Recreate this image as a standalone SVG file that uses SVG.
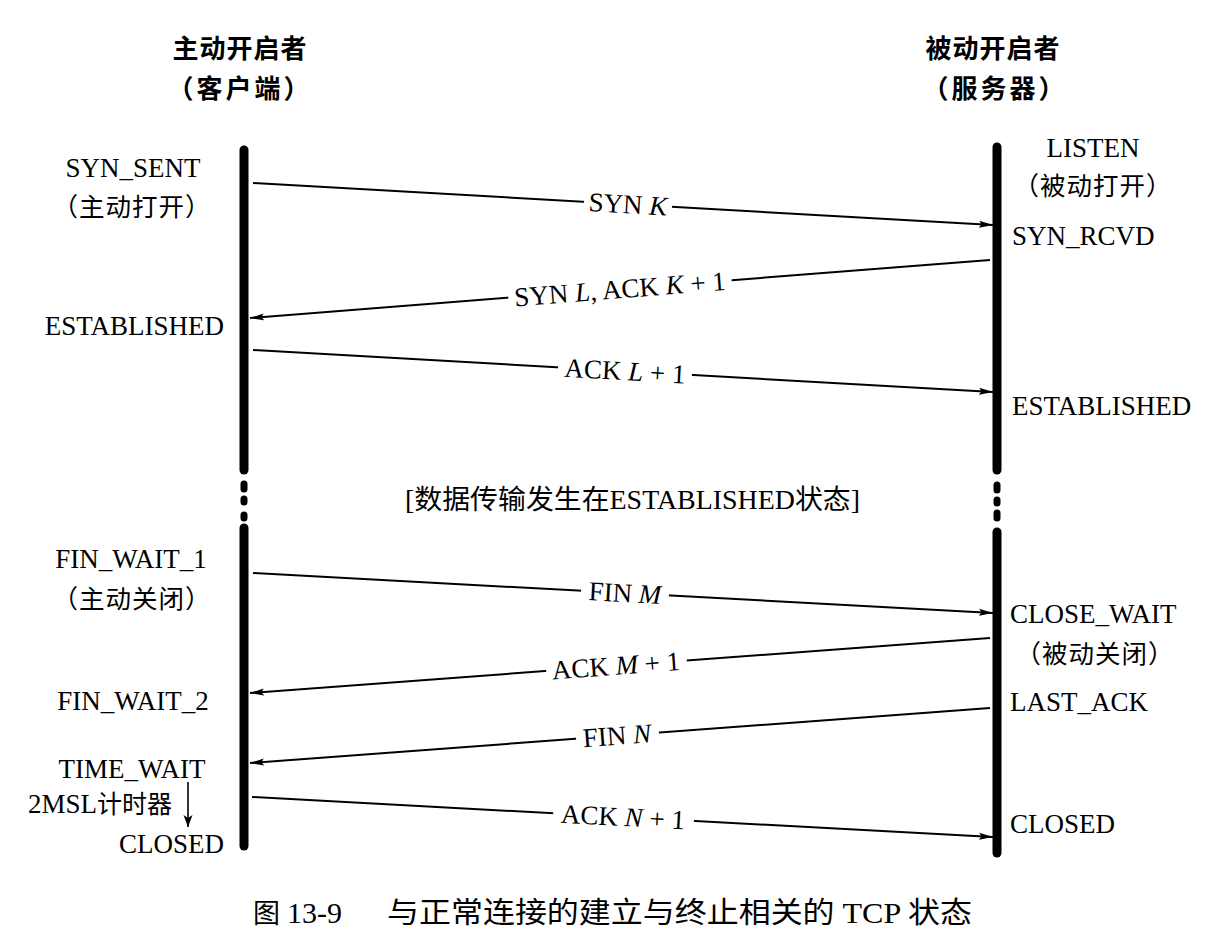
<svg xmlns="http://www.w3.org/2000/svg" width="1230" height="940" viewBox="0 0 1230 940">
<defs>
<style>
.t{font-family:"Liberation Serif","Noto Sans CJK SC",serif;font-size:27px;fill:#000}
.cn{font-family:"Noto Sans CJK SC",sans-serif;font-size:25px;fill:#000}
.lab{font-size:25.5px;letter-spacing:1px}
.h{font-family:"Noto Sans CJK SC",sans-serif;font-size:26px;font-weight:700;fill:#000;letter-spacing:1px}
.life{stroke:#000;stroke-width:9;stroke-linecap:round;fill:none}
.dot{stroke:#000;stroke-width:7;stroke-linecap:round;fill:none}
.msg{stroke:#000;stroke-width:2;fill:none;marker-end:url(#ah)}
.gap{fill:#fff}
.i{font-style:italic}
</style>
<marker id="ah" viewBox="0 0 14 8" refX="14" refY="4" markerWidth="14" markerHeight="8" orient="auto" markerUnits="userSpaceOnUse">
<path d="M0,0.5 L14,4 L0,7.5 L2.5,4 z" fill="#000"/>
</marker>
<marker id="ahs" viewBox="0 0 10 12" refX="5" refY="12" markerWidth="10" markerHeight="12" orient="0" markerUnits="userSpaceOnUse">
<path d="M0.5,0 L5,12 L9.5,0 L5,3 z" fill="#000"/>
</marker>
</defs>
<rect width="1230" height="940" fill="#fff"/>

<g id="client">
<text class="h" x="240" y="58" text-anchor="middle">主动开启者</text>
<text class="h" x="240" y="98" text-anchor="middle" style="letter-spacing:3px">（客户端）</text>
<line class="life" x1="244" y1="150" x2="244" y2="470"/>
<line class="dot" x1="244" y1="484" x2="244" y2="489"/>
<line class="dot" x1="244" y1="499" x2="244" y2="502"/>
<line class="dot" x1="244" y1="515" x2="244" y2="518"/>
<line class="life" x1="244" y1="528" x2="244" y2="846"/>
</g>

<g id="server">
<text class="h" x="993" y="58" text-anchor="middle">被动开启者</text>
<text class="h" x="995" y="98" text-anchor="middle" style="letter-spacing:3px">（服务器）</text>
<line class="life" x1="997" y1="147" x2="997" y2="470"/>
<line class="dot" x1="997" y1="485" x2="997" y2="490"/>
<line class="dot" x1="997" y1="500" x2="997" y2="503"/>
<line class="dot" x1="997" y1="513" x2="997" y2="518"/>
<line class="life" x1="997" y1="532" x2="997" y2="853"/>
</g>

<g id="client-states">
<text class="t" x="133" y="177" text-anchor="middle">SYN_SENT</text>
<text class="cn lab" x="132" y="216" text-anchor="middle">（主动打开）</text>
<text class="t" x="224" y="335" text-anchor="end">ESTABLISHED</text>
<text class="t" x="131" y="568" text-anchor="middle">FIN_WAIT_1</text>
<text class="cn lab" x="132" y="608" text-anchor="middle">（主动关闭）</text>
<text class="t" x="133" y="710" text-anchor="middle">FIN_WAIT_2</text>
<text class="t" x="132" y="778" text-anchor="middle">TIME_WAIT</text>
<text class="t" x="28" y="813">2MSL<tspan class="cn" style="font-size:25px">计时器</tspan></text>
<line x1="188" y1="782" x2="188" y2="827" stroke="#000" stroke-width="1.6" marker-end="url(#ahs)"/>
<text class="t" x="224" y="853" text-anchor="end">CLOSED</text>
</g>

<g id="server-states">
<text class="t" x="1093" y="157" text-anchor="middle">LISTEN</text>
<text class="cn lab" x="1093" y="195" text-anchor="middle">（被动打开）</text>
<text class="t" x="1012" y="245">SYN_RCVD</text>
<text class="t" x="1012" y="415">ESTABLISHED</text>
<text class="t" x="1010" y="623">CLOSE_WAIT</text>
<text class="cn lab" x="1095" y="663" text-anchor="middle">（被动关闭）</text>
<text class="t" x="1010" y="711">LAST_ACK</text>
<text class="t" x="1010" y="833">CLOSED</text>
</g>

<g id="data-note">
<text class="t" x="405" y="509" textLength="455" lengthAdjust="spacingAndGlyphs">[<tspan class="cn" style="font-size:27px">数据传输发生在</tspan>ESTABLISHED<tspan class="cn" style="font-size:27px">状态</tspan>]</text>
</g>

<g id="connectors">
<line class="msg" x1="253" y1="183" x2="993" y2="225"/>
<line class="msg" x1="990" y1="260" x2="250" y2="318"/>
<line class="msg" x1="253" y1="350" x2="993" y2="392"/>
<line class="msg" x1="253" y1="573" x2="993" y2="613"/>
<line class="msg" x1="990" y1="638" x2="250" y2="693"/>
<line class="msg" x1="990" y1="708" x2="250" y2="763"/>
<line class="msg" x1="252" y1="797" x2="993" y2="837"/>
</g>

<g id="labels">
<g transform="rotate(3.25 628 204.3)">
<rect class="gap" x="584" y="192" width="88" height="24"/>
<text class="t" x="628" y="213.3" text-anchor="middle">SYN <tspan class="i">K</tspan></text>
</g>
<g transform="rotate(-4.48 620 289.2)">
<rect class="gap" x="508" y="277" width="224" height="24"/>
<text class="t" x="620" y="298.2" text-anchor="middle">SYN <tspan class="i">L</tspan>, ACK <tspan class="i">K</tspan> + 1</text>
</g>
<g transform="rotate(3.25 625 371.1)">
<rect class="gap" x="558" y="359" width="134" height="24"/>
<text class="t" x="625" y="380.1" text-anchor="middle">ACK <tspan class="i">L</tspan> + 1</text>
</g>
<g transform="rotate(3.09 625 593.1)">
<rect class="gap" x="581" y="581" width="88" height="24"/>
<text class="t" x="625" y="602.1" text-anchor="middle">FIN <tspan class="i">M</tspan></text>
</g>
<g transform="rotate(-4.25 616 665.8)">
<rect class="gap" x="546" y="654" width="141" height="24"/>
<text class="t" x="616" y="674.8" text-anchor="middle">ACK <tspan class="i">M</tspan> + 1</text>
</g>
<g transform="rotate(-4.25 617 735.7)">
<rect class="gap" x="576" y="724" width="83" height="24"/>
<text class="t" x="617" y="744.7" text-anchor="middle">FIN <tspan class="i">N</tspan></text>
</g>
<g transform="rotate(3.09 623 817)">
<rect class="gap" x="553" y="805" width="141" height="24"/>
<text class="t" x="623" y="826" text-anchor="middle">ACK <tspan class="i">N</tspan> + 1</text>
</g>
</g>

<g id="caption">
<text class="cn" x="253" y="923" style="font-size:27px">图</text>
<text class="t" x="287" y="923" style="font-size:30px">13-9</text>
<text class="cn" x="387" y="923" style="font-size:29px" textLength="585" lengthAdjust="spacingAndGlyphs">与正常连接的建立与终止相关的<tspan class="t" style="font-size:29px"> TCP </tspan>状态</text>
</g>
</svg>
